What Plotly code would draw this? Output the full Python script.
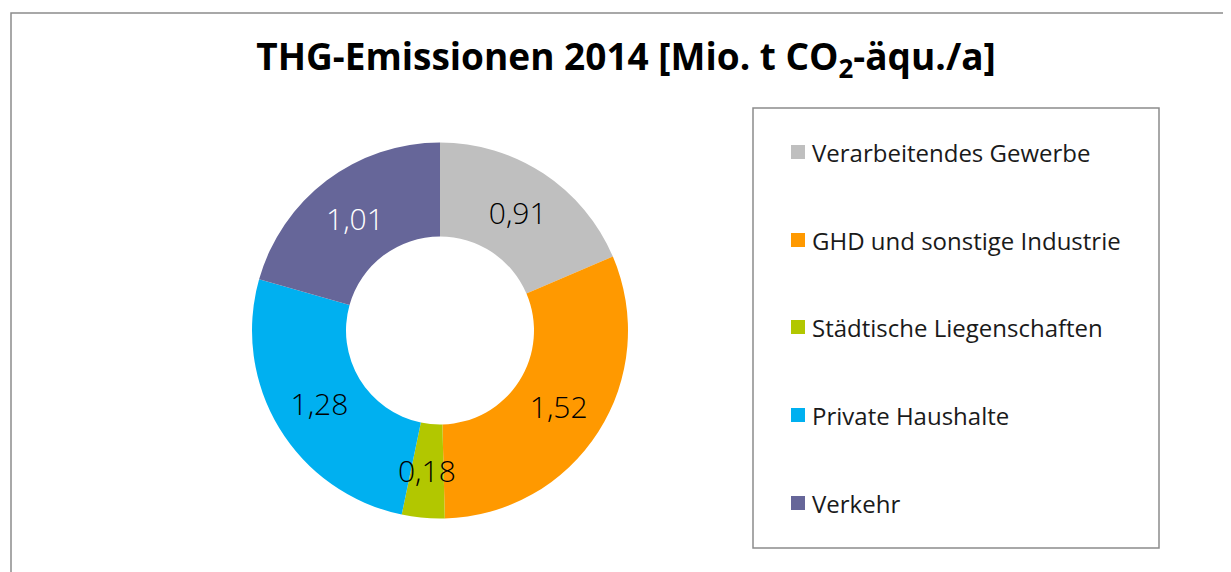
import math
import plotly.graph_objects as go

categories = ["Verarbeitendes Gewerbe", "GHD und sonstige Industrie", "Städtische Liegenschaften",
              "Private Haushalte", "Verkehr"]
values = [0.91, 1.52, 0.18, 1.28, 1.01]
colors = ["#BFBFBF", "#FF9900", "#B2C700", "#00B0F0", "#666699"]
label_colors = ["#000000", "#000000", "#000000", "#000000", "#FFFFFF"]
title_text = "THG-Emissionen 2014 [Mio. t CO<sub>2</sub>-äqu./a]"

W, H = 1231, 572
OFF = 8  # page body margin
def px(x): return (x - OFF) / W
def py(y): return 1 - (y - OFF) / H

# pie geometry (screen pixels)
cx, cy, R, hole = 440, 330.5, 188, 0.5
small = [v / sum(values) < 0.05 for v in values]
texts = [f"{v:.2f}".replace(".", ",") for v in values]
positions = ["none" if s else "inside" for s in small]

fig = go.Figure(go.Pie(
    labels=categories, values=values, sort=False, direction="clockwise", rotation=0,
    hole=hole, marker=dict(colors=colors, line=dict(width=0)),
    text=texts, texttemplate="%{text}", textposition=positions, insidetextorientation="horizontal",
    textfont=dict(family="Open Sans", size=30, color=label_colors, weight=300),
    domain=dict(x=[px(cx - R), px(cx + R)], y=[py(cy + R), py(cy - R)]),
    showlegend=False, hoverinfo="label+value",
))

annotations = []
# labels of slices too thin for Plotly's inside text: place at mid-ring, same font
total = sum(values)
cum = 0
for v, s, lc, t in zip(values, small, label_colors, texts):
    if s:
        ang = math.radians((cum + v / 2) / total * 360)
        rm = R * (1 + hole) / 2
        x = cx + rm * math.sin(ang)
        y = cy - rm * math.cos(ang)
        annotations.append(dict(xref="paper", yref="paper", x=px(x), y=py(y),
                                text=t, showarrow=False,
                                xanchor="center", yanchor="middle",
                                font=dict(family="Open Sans", size=30, color=lc, weight=300)))
    cum += v

shapes = [
    dict(type="rect", xref="paper", yref="paper", x0=px(11), y0=py(620), x1=px(1280), y1=py(13),
         line=dict(color="#8C8C8C", width=1.5), fillcolor="rgba(0,0,0,0)"),
    dict(type="rect", xref="paper", yref="paper", x0=px(753), y0=py(548), x1=px(1159), y1=py(108),
         line=dict(color="#8C8C8C", width=1.5), fillcolor="rgba(0,0,0,0)"),
]
item_y = [152, 240, 327, 415, 503]
for cat, col, yc in zip(categories, colors, item_y):
    shapes.append(dict(type="rect", xref="paper", yref="paper", x0=px(791), x1=px(805),
                       y0=py(yc + 7), y1=py(yc - 7), fillcolor=col, line=dict(width=0)))
    annotations.append(dict(xref="paper", yref="paper", x=px(810), y=py(yc), text=cat,
                            showarrow=False, xanchor="left", yanchor="middle",
                            font=dict(family="Open Sans", size=24, color="#1A1A1A")))

fig.update_layout(
    width=W, height=H, margin=dict(l=0, r=0, t=0, b=0),
    paper_bgcolor="white", plot_bgcolor="white", separators=", ",
    title=dict(text=title_text, x=px(626), xanchor="center", y=py(57), yanchor="middle",
               font=dict(family="Open Sans", size=37, color="#000000", weight="bold")),
    shapes=shapes, annotations=annotations,
)
fig.write_html("out.html")
